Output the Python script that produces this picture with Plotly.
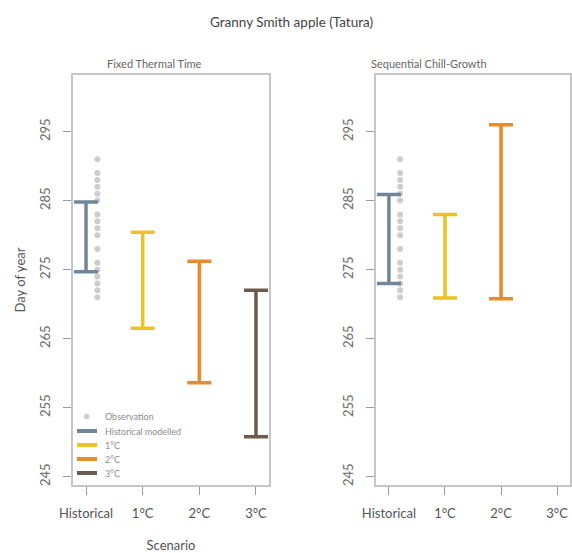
import plotly.graph_objects as go

# ---------------- data ----------------
scenarios = ["Historical", "1°C", "2°C", "3°C"]
scenario_pos = [1, 2, 3, 4]
series_names = ["Historical modelled", "1°C", "2°C", "3°C"]
colors = ["#72869a", "#ebc322", "#e98a2b", "#6e5a4c"]

# Fixed Thermal Time: ranges (low, high) per scenario
ftt_low = [274.7, 266.5, 258.6, 250.8]
ftt_high = [284.8, 280.4, 276.2, 272.0]

# Sequential Chill-Growth: no 3°C range
scg_low = [273.0, 270.9, 270.8, None]
scg_high = [285.9, 283.0, 296.0, None]

# Observed harvest days (historical)
obs_days = [291, 289, 288, 287, 286, 285, 283, 282, 281, 280, 278, 276,
            275, 274, 273, 272, 271]
obs_offset = 0.2

yticks = [245, 255, 265, 275, 285, 295]

FONT = "Lato"
W, H = 572, 553

fig = go.Figure()

panels = [("x", "y", ftt_low, ftt_high), ("x2", "y2", scg_low, scg_high)]
for xa, ya, lows, highs in panels:
    fig.add_trace(go.Scatter(
        x=[scenario_pos[0] + obs_offset] * len(obs_days), y=obs_days,
        mode="markers", marker=dict(color="#cdcdcd", size=6),
        xaxis=xa, yaxis=ya, showlegend=False, hoverinfo="y"))
    for i, (lo, hi) in enumerate(zip(lows, highs)):
        if lo is None:
            continue
        fig.add_trace(go.Scatter(
            x=[scenario_pos[i]], y=[lo], mode="markers",
            marker=dict(size=1, opacity=0),
            error_y=dict(type="data", symmetric=False, array=[hi - lo],
                         arrayminus=[0], color=colors[i], thickness=3.5,
                         width=12),
            xaxis=xa, yaxis=ya, showlegend=False, name=series_names[i]))

def px_x(p):
    return p / W

def px_y(p):
    return 1 - p / H

xdom1 = [px_x(73), px_x(269)]
xdom2 = [px_x(376), px_x(570)]
ydom = [px_y(485), px_y(75)]

axis_common = dict(
    showline=True, linecolor="#c6c6c6", linewidth=2, mirror=True,
    showgrid=False, zeroline=False, ticks="outside", ticklen=8,
    tickcolor="#9a9a9a", tickwidth=1,
)
xcommon = dict(axis_common, range=[0.77, 4.23], tickvals=scenario_pos,
               ticktext=scenarios, tickfont=dict(size=13, color="#555555"),
               ticklabelstandoff=7)
ycommon = dict(axis_common, range=[243.8, 303.2], tickvals=yticks,
               tickangle=-90, tickfont=dict(size=13, color="#6a6a6a"),
               ticklabelstandoff=8)

fig.update_layout(
    width=W, height=H, template="none",
    paper_bgcolor="white", plot_bgcolor="white",
    margin=dict(l=0, r=0, t=0, b=0),
    font=dict(family=FONT, color="#555555"),
    showlegend=False,
    xaxis=dict(xcommon, domain=xdom1, anchor="y",
               title=dict(text="Scenario", standoff=21,
                          font=dict(size=13, color="#555555"))),
    yaxis=dict(ycommon, domain=ydom, anchor="x",
               title=dict(text="Day of year", standoff=8,
                          font=dict(size=13, color="#555555"))),
    xaxis2=dict(xcommon, domain=xdom2, anchor="y2"),
    yaxis2=dict(ycommon, domain=ydom, anchor="x2"),
)

annotations = [
    dict(text="Granny Smith apple (Tatura)", x=px_x(291), y=px_y(22),
         font=dict(size=13.5, color="#444444")),
    dict(text="Fixed Thermal Time", x=px_x(154), y=px_y(64),
         font=dict(size=11, color="#666666")),
    dict(text="Sequential Chill-Growth", x=px_x(429), y=px_y(64),
         font=dict(size=11, color="#666666")),
]
for a in annotations:
    a.update(xref="paper", yref="paper", showarrow=False,
             xanchor="center", yanchor="middle")
    fig.add_annotation(**a)

# ---------------- manual legend (inside left panel) ----------------
leg_labels = ["Observation"] + series_names
leg_rows = [416.5, 431, 445, 459, 473]
shapes = []
shapes.append(dict(type="circle", xref="paper", yref="paper",
                   x0=px_x(84), x1=px_x(89.5), y0=px_y(419.2), y1=px_y(413.7),
                   fillcolor="#cdcdcd", line=dict(width=0)))
for i, yy in enumerate(leg_rows[1:]):
    shapes.append(dict(type="line", xref="paper", yref="paper",
                       x0=px_x(77), x1=px_x(97), y0=px_y(yy), y1=px_y(yy),
                       line=dict(color=colors[i], width=4)))
fig.update_layout(shapes=shapes)
for lab, yy in zip(leg_labels, leg_rows):
    fig.add_annotation(text=lab, x=px_x(103), y=px_y(yy), xref="paper",
                       yref="paper", showarrow=False, xanchor="left",
                       yanchor="middle", font=dict(size=9, color="#8c8c8c"))

fig.write_html(
    "out.html",
    config={"displayModeBar": False},
    post_script="document.body.style.margin='0';"
                "document.body.style.overflow='hidden';",
)
